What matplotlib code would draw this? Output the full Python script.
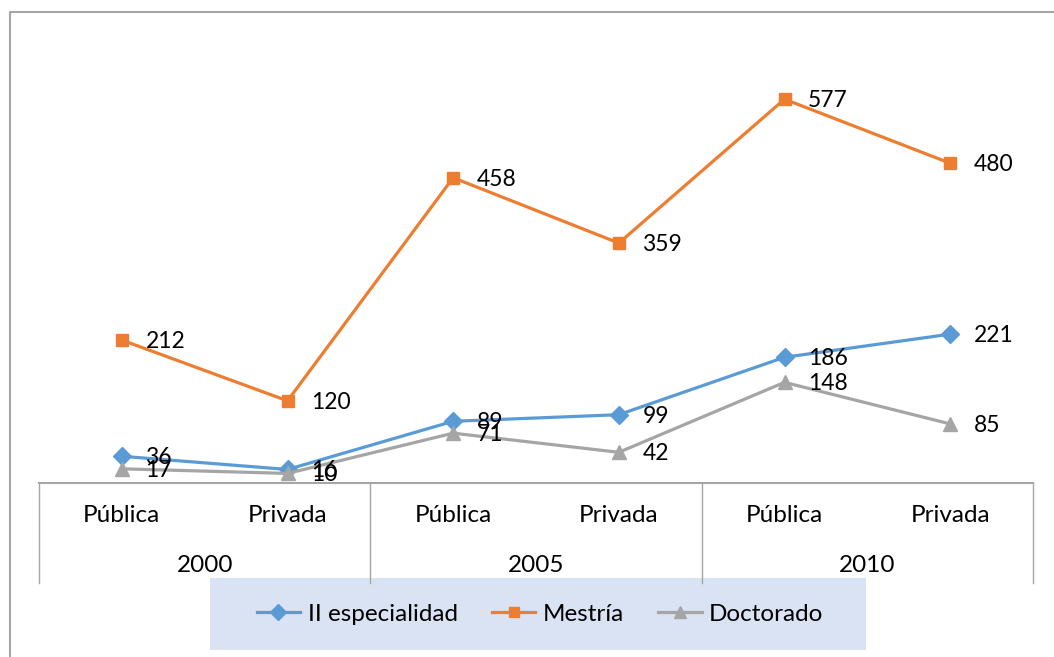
import matplotlib.pyplot as plt
from matplotlib.lines import Line2D
from matplotlib.patches import Rectangle

# datos
tipos = ["Pública", "Privada", "Pública", "Privada", "Pública", "Privada"]
anios = ["2000", "2005", "2010"]
especialidad = [36, 16, 89, 99, 186, 221]
mestria = [212, 120, 458, 359, 577, 480]
doctorado = [17, 10, 71, 42, 148, 85]

W, H = 1054, 657
plt.rcParams['font.family'] = ['Lato', 'DejaVu Sans']


def fx(px):
    return px / W


def fy(py):
    return 1 - py / H


fig = plt.figure(figsize=(W / 100, H / 100), dpi=100)
ax = fig.add_axes([fx(39), fy(483), fx(1033) - fx(39), fy(18) - fy(483)])

x = list(range(len(tipos)))
series = [
    ("II especialidad", especialidad, "#5B9BD5", "D", 9),
    ("Mestría", mestria, "#ED7D31", "s", 9),
    ("Doctorado", doctorado, "#A5A5A5", "^", 10),
]
handles = []
for nombre, vals, col, mk, ms in series:
    h, = ax.plot(x, vals, color=col, lw=2.3, marker=mk, markersize=ms,
                 label=nombre, clip_on=False, zorder=3)
    handles.append(h)
    for xi, v in zip(x, vals):
        ax.annotate(str(v), (xi, v), xytext=(17, -1), textcoords="offset points",
                    ha="left", va="center", fontsize=16.5, color="black", zorder=4)

ax.set_xlim(-0.5, 5.5)
ax.set_ylim(-4.5, 700)
ax.axis("off")

gris = "#A6A6A6"
# borde exterior del grafico
fig.add_artist(Line2D([fx(10), fx(10), fx(1054)], [fy(657), fy(12), fy(12)],
                      color=gris, lw=1.5))
# eje de categorias en dos niveles
fig.add_artist(Line2D([fx(39), fx(1033)], [fy(483), fy(483)], color=gris, lw=1.5))
for px in [39, 370, 702, 1033]:
    fig.add_artist(Line2D([fx(px), fx(px)], [fy(483), fy(583)], color=gris, lw=1))

for i, t in enumerate(tipos):
    xc = fx(39) + (i + 0.5) * (fx(1033) - fx(39)) / 6
    fig.text(xc, fy(516), t, ha="center", va="center", fontsize=17.5)
for j, a in enumerate(anios):
    xc = fx(39) + (j + 0.5) * (fx(1033) - fx(39)) / 3
    fig.text(xc, fy(565), a, ha="center", va="center", fontsize=17.5)

# leyenda
fig.add_artist(Rectangle((fx(210), fy(650)), fx(866) - fx(210), fy(578) - fy(650),
                         transform=fig.transFigure, facecolor="#DAE3F3",
                         edgecolor="none", zorder=1))
fig.legend(handles=handles, loc="center", bbox_to_anchor=(fx(540), fy(614)),
           ncol=3, frameon=False, fontsize=17.5, handlelength=1.8,
           handletextpad=0.3, columnspacing=1.4, markerscale=0.85)

fig.savefig("out.png", dpi=100)
